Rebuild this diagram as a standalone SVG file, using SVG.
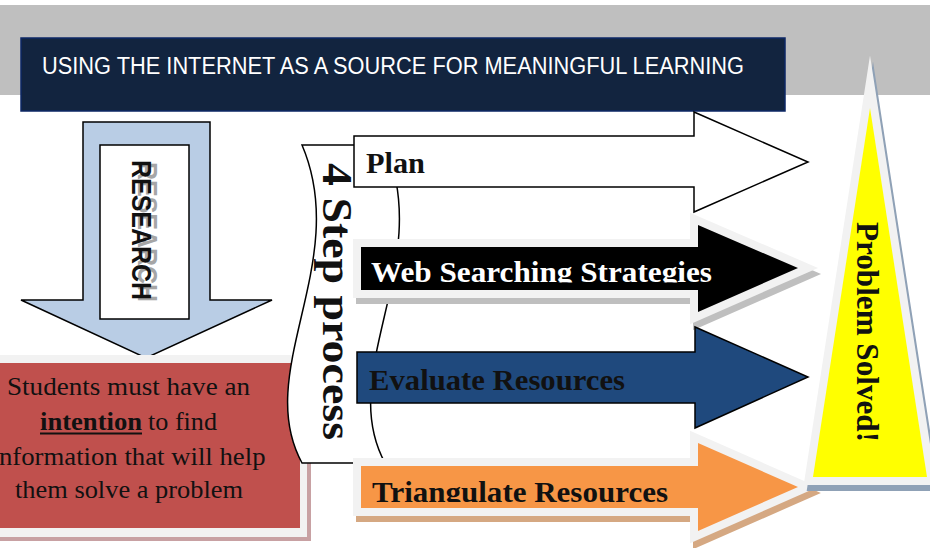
<svg xmlns="http://www.w3.org/2000/svg" width="930" height="548" viewBox="0 0 930 548">
<defs>
<style>
.lbl{font-family:"Liberation Serif",serif;font-weight:bold;font-size:30px}
.body{font-family:"Liberation Serif",serif;font-size:25px;fill:#111}
.glow{fill:#F2F2F2;stroke:#F2F2F2;stroke-width:16;stroke-linejoin:miter;stroke-miterlimit:10}
.line{stroke:#000;stroke-width:1.5;stroke-linejoin:miter}
</style>
<clipPath id="cw"><rect x="355" y="240" width="400" height="42.5"/></clipPath>
<clipPath id="ct"><rect x="355" y="460" width="400" height="42"/></clipPath>
</defs>
<rect width="930" height="548" fill="#fff"/>
<g id="banner">
<rect x="0" y="5" width="930" height="90" fill="#BFBFBF"/>
</g>
<g id="title">
<rect x="21" y="38" width="764" height="73" fill="#12243F" stroke="#0D2766" stroke-width="1.5"/>
<text x="42" y="74" font-family="Liberation Sans, Arial, sans-serif" font-size="23" fill="#fff" textLength="702" lengthAdjust="spacingAndGlyphs">USING THE INTERNET AS A SOURCE FOR MEANINGFUL LEARNING</text>
</g>
<g id="research">
<path class="line" d="M83,122 H210 V300 H272 L146,358 L21,300 H83 Z" fill="#B9CDE5"/>
<rect class="line" x="100" y="145" width="89" height="174" fill="#fff"/>
<text transform="translate(138,162) rotate(90)" font-family="Liberation Sans, Arial, sans-serif" font-weight="bold" font-size="28" fill="#A6A6A6" textLength="140" lengthAdjust="spacingAndGlyphs">RESEARCH</text>
<text transform="translate(132,160) rotate(90)" font-family="Liberation Sans, Arial, sans-serif" font-weight="bold" font-size="28" fill="#111" textLength="140" lengthAdjust="spacingAndGlyphs">RESEARCH</text>
</g>
<g id="intention">
<rect x="-14" y="359" width="325" height="182" fill="#C8A1A3"/>
<rect x="-18" y="355" width="325" height="182" fill="#F2F2F2"/>
<rect x="-10" y="363" width="310" height="165" fill="#C0504D"/>
<text class="body" x="7" y="395" textLength="243" lengthAdjust="spacingAndGlyphs">Students must have an</text>
<text class="body" x="40" y="430" font-weight="bold" textLength="102" lengthAdjust="spacingAndGlyphs">intention</text>
<rect x="40" y="432.5" width="102" height="2" fill="#111"/>
<text class="body" x="148" y="430" textLength="69" lengthAdjust="spacingAndGlyphs">to find</text>
<text class="body" x="128.5" y="465" text-anchor="middle" textLength="274" lengthAdjust="spacingAndGlyphs">information that will help</text>
<text class="body" x="15" y="498" textLength="228" lengthAdjust="spacingAndGlyphs">them solve a problem</text>
</g>
<g id="four-step">
<path class="line" d="M302,145 L385,145 C435,262 335,372 385,463 L302,463 C252,372 352,262 302,145 Z" fill="#fff"/>
<text transform="translate(323,163) rotate(90)" font-family="Liberation Serif, serif" font-weight="bold" font-size="42" fill="#111" textLength="277" lengthAdjust="spacingAndGlyphs">4 Step process</text>
</g>
<g id="plan">
<path class="line" d="M354,136 H694 V112 L808,162 L694,212 V187 H354 Z" fill="#fff"/>
<text class="lbl" x="366" y="173" fill="#111" textLength="59" lengthAdjust="spacingAndGlyphs">Plan</text>
</g>
<g id="web-searching">
<path class="glow" transform="translate(3,6)" d="M361,247 H698 V225 L798,268 L698,312 V290 H361 Z" style="fill:#BFBFBF;stroke:#BFBFBF"/>
<path class="glow" d="M361,247 H698 V225 L798,268 L698,312 V290 H361 Z"/>
<path d="M361,247 H698 V225 L798,268 L698,312 V290 H361 Z" fill="#000"/>
<text class="lbl" x="371" y="282" fill="#fff" clip-path="url(#cw)" textLength="341" lengthAdjust="spacingAndGlyphs">Web Searching Strategies</text>
</g>
<g id="evaluate">
<path class="line" d="M357,352 H695 V327 L808,377 L695,428 V403 H357 Z" fill="#1F497D"/>
<text class="lbl" x="369" y="390" fill="#111" textLength="256" lengthAdjust="spacingAndGlyphs">Evaluate Resources</text>
</g>
<g id="triangulate">
<path class="glow" transform="translate(3,6)" d="M361,466 H698 V443 L798,487 L698,531 V508 H361 Z" style="fill:#D5A882;stroke:#D5A882"/>
<path class="glow" d="M361,466 H698 V443 L798,487 L698,531 V508 H361 Z"/>
<path d="M361,466 H698 V443 L798,487 L698,531 V508 H361 Z" fill="#F79646"/>
<text class="lbl" x="372" y="502" fill="#111" clip-path="url(#ct)" textLength="296" lengthAdjust="spacingAndGlyphs">Triangulate Resources</text>
</g>
<g id="problem-solved">
<polygon class="glow" transform="translate(3,6)" points="870,108 927,477 813,477" style="fill:#8FA1B6;stroke:#8FA1B6"/>
<polygon class="glow" points="870,108 927,477 813,477"/>
<polygon points="870,108 927,477 813,477" fill="#FFFF00"/>
<text transform="translate(857,222) rotate(90)" font-family="Liberation Serif, serif" font-weight="bold" font-size="31" fill="#111" textLength="220" lengthAdjust="spacingAndGlyphs">Problem Solved!</text>
</g>
<g id="connectors"/>
</svg>
